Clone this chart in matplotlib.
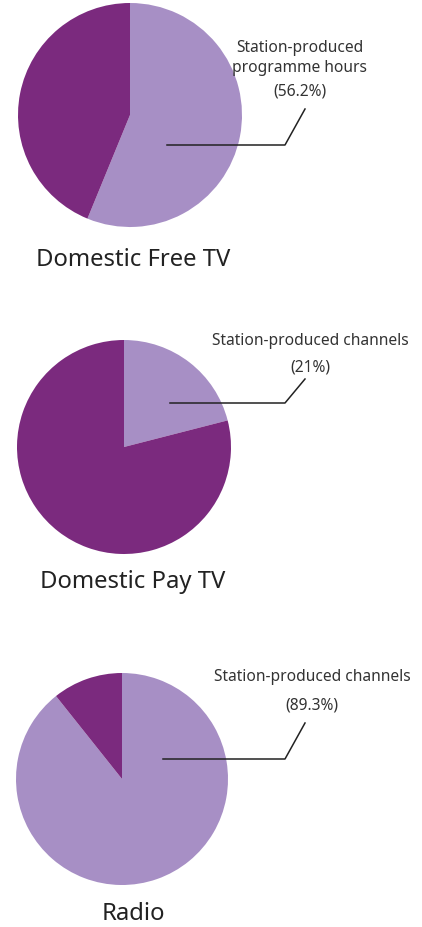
import matplotlib.pyplot as plt

plt.rcParams['font.family'] = ['Noto Sans', 'DejaVu Sans']

# 데이터
titles = ['Domestic Free TV', 'Domestic Pay TV', 'Radio']
station_share = [56.2, 21, 89.3]
share_labels = ['(56.2%)', '(21%)', '(89.3%)']
callouts = ['Station-produced\nprogramme hours', 'Station-produced channels', 'Station-produced channels']

light = '#a78fc5'
dark = '#7b2a7e'
W, H = 422, 928

# 파이 위치 (픽셀, 위에서부터)
centers = [(130, 116), (124, 448), (122, 780)]
radii = [112, 107, 106]
title_x = 133
title_y = [260, 582, 914]
text_pos = [(300, 58), (310, 341), (312, 677)]
pct_y = [92, 367, 706]
lines = [[(167, 146), (285, 146), (305, 110)],
         [(170, 404), (285, 404), (305, 380)],
         [(163, 760), (285, 760), (305, 724)]]

fig = plt.figure(figsize=(W / 100, H / 100), dpi=100)
ax = fig.add_axes([0, 0, 1, 1])

for i in range(3):
    cx, cy = centers[i]
    ax.pie([station_share[i], 100 - station_share[i]], colors=[light, dark],
           startangle=90, counterclock=False, center=(cx, H - cy), radius=radii[i],
           wedgeprops={'linewidth': 0}, frame=True)
    # 제목
    ax.text(title_x, H - title_y[i], titles[i], ha='center', va='center', fontsize=17.2, color='#222222')
    # 설명
    tx, ty = text_pos[i]
    ax.text(tx, H - ty, callouts[i], ha='center', va='center',
            fontsize=11.2, color='#333333', linespacing=1.35)
    ax.text(tx, H - pct_y[i], share_labels[i], ha='center', va='center', fontsize=11.2, color='#333333')
    xs = [p[0] for p in lines[i]]
    ys = [H - p[1] for p in lines[i]]
    ax.plot(xs, ys, color='#222222', lw=1.1)

ax.set_xlim(0, W)
ax.set_ylim(0, H)
ax.set_aspect('auto')
ax.axis('off')

plt.savefig('out.png', dpi=100)
